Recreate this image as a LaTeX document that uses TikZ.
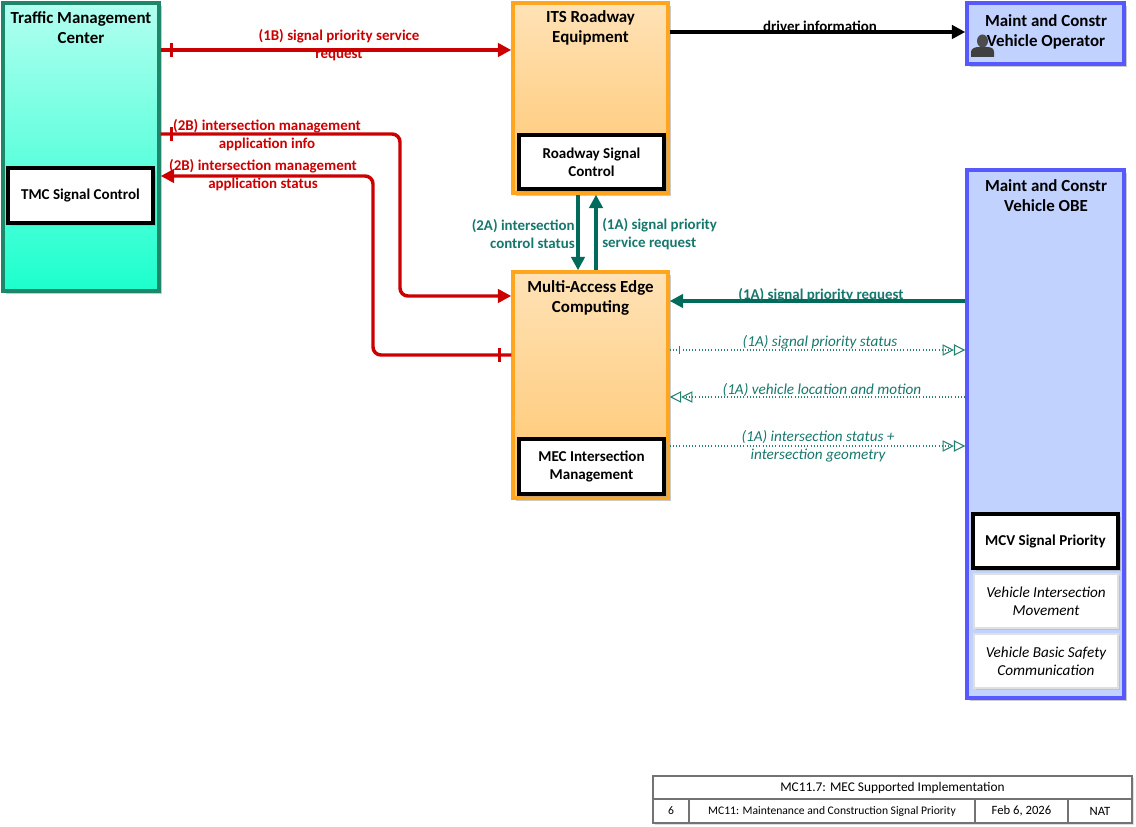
\documentclass[tikz,border=0pt]{standalone}
\usepackage{fontspec}
\setmainfont{Carlito}
\usetikzlibrary{arrows.meta,shadows,fit,decorations.markings}
\definecolor{redc}{RGB}{204,0,0}
\definecolor{tealc}{RGB}{0,107,90}
\definecolor{teallab}{RGB}{22,120,108}
\definecolor{tealdot}{RGB}{40,130,115}
\definecolor{tmcborder}{RGB}{30,135,105}
\definecolor{tmctop}{RGB}{178,255,240}
\definecolor{tmcbot}{RGB}{28,255,205}
\definecolor{orgborder}{RGB}{255,165,30}
\definecolor{orgtop}{RGB}{255,226,182}
\definecolor{orgbot}{RGB}{255,198,110}
\definecolor{blueborder}{RGB}{88,88,255}
\definecolor{bluefill}{RGB}{194,210,255}
\tikzset{
  x=0.75pt, y=-0.75pt,
  shad/.style={drop shadow={shadow xshift=2.2pt, shadow yshift=-2.2pt, fill=black!35, opacity=0.6}},
  tmcbox/.style={inner sep=0pt, draw=tmcborder, line width=2.6pt, top color=tmctop, bottom color=tmcbot, shad},
  orgbox/.style={inner sep=0pt, draw=orgborder, line width=2.6pt, top color=orgtop, bottom color=orgbot, shad},
  bluebox/.style={inner sep=0pt, draw=blueborder, line width=2.6pt, fill=bluefill, shad},
  inbox/.style={inner sep=0pt, draw=black, line width=2.6pt, fill=white, shad},
  subbox/.style={inner sep=0pt, draw=black!12, line width=0.8pt, fill=white, drop shadow={shadow xshift=1.8pt, shadow yshift=-1.8pt, fill=black!30, opacity=0.5}},
  titletxt/.style={align=center, inner sep=0pt, font=\fontsize{12.7}{15}\selectfont\bfseries},
  intxt/.style={align=center, inner sep=0pt, font=\fontsize{11.3}{13.5}\selectfont\bfseries},
  subtxt/.style={align=center, inner sep=0pt, font=\fontsize{11.4}{13.5}\selectfont\itshape},
  redlab/.style={align=center, inner sep=0pt, text=redc, font=\fontsize{11.2}{13}\selectfont\bfseries},
  teallabel/.style={inner sep=0pt, text=teallab, font=\fontsize{11.2}{13.5}\selectfont\bfseries},
  itlab/.style={align=center, inner sep=0pt, text=teallab, font=\fontsize{11.4}{13.5}\selectfont\itshape},
  redflow/.style={draw=redc, line width=2.6pt, -{Triangle[length=10pt,width=10pt]}},
  tealflow/.style={draw=tealc, line width=2.6pt, -{Triangle[length=10pt,width=10pt]}},
  blackflow/.style={draw=black, line width=2.6pt, -{Triangle[length=10pt,width=10pt]}},
  dotflow/.style={draw=tealdot, line width=0.8pt, dash pattern=on 0.8pt off 1.6pt,
     -{Triangle[open,length=8.5pt,width=8.5pt,line width=0.8pt]Triangle[open,length=8.5pt,width=8.5pt,line width=0.8pt]}},
  redtick/.style={postaction={decorate,decoration={markings,mark=at position #1 with {\draw[solid,-,draw=redc,line width=2.2pt] (0,-5pt)--(0,5pt);}}}},
  dottick/.style={postaction={decorate,decoration={markings,mark=at position #1 with {\draw[solid,-,draw=tealdot,line width=0.8pt] (0,-3pt)--(0,3pt);}}}},
  tabtxt/.style={inner sep=0pt, font=\fontsize{8.7}{11}\selectfont}
}
\begin{document}
\begin{tikzpicture}
\useasboundingbox (0,0) rectangle (1136,827);
% ---------- boxes ----------
\node[tmcbox, fit={(3,3) (159,291)}] (tmc) {};
\node[titletxt] (tmct) at (81,28) {Traffic Management\\Center};
\node[inbox, fit={(8,168) (153,223)}] (tmcsc) {};
\node[intxt] (tmcsct) at (tmcsc.center) {TMC Signal Control};

\node[orgbox, fit={(513,3) (668,193)}] (its) {};
\node[titletxt] (itst) at (590.5,28) {ITS Roadway\\Equipment};
\node[inbox, fit={(519,135) (664,189)}] (rsc) {};
\node[intxt] (rsct) at (rsc.center) {Roadway Signal\\Control};

\node[bluebox, fit={(967,3) (1124,64)}] (op) {};
\node[titletxt] (opt) at (1046,32) {Maint and Constr\\Vehicle Operator};
% operator icon
\fill[black!75] (971,57) -- (971,52) .. controls (971,48.5) and (975,47) .. (979,47) -- (987,47) .. controls (991,47) and (994,48.5) .. (994,52) -- (994,57) -- cycle;
\fill[black!70] (982.5,41) ellipse [x radius=5.5, y radius=6.5];

\node[orgbox, fit={(513,272) (668,498)}] (mec) {};
\node[titletxt] (mect) at (590.5,298) {Multi-Access Edge\\Computing};
\node[inbox, fit={(519,439) (664,494)}] (mecim) {};
\node[intxt] (mecimt) at (mecim.center) {MEC Intersection\\Management};

\node[bluebox, fit={(967,170) (1124,698)}] (obe) {};
\node[titletxt] (obet) at (1046,196) {Maint and Constr\\Vehicle OBE};
\node[inbox, fit={(973,514) (1118,568)}] (mcv) {};
\node[intxt] (mcvt) at (mcv.center) {MCV Signal Priority};
\node[subbox, fit={(974,574) (1118,628)}] (vim) {};
\node[subtxt] (vimt) at (vim.center) {Vehicle Intersection\\Movement};
\node[subbox, fit={(974,634) (1118,688)}] (vbsc) {};
\node[subtxt] (vbsct) at (vbsc.center) {Vehicle Basic Safety\\Communication};

% ---------- flows ----------
\draw[redflow, redtick=8pt] (tmc.east |- 0,50) -- (its.west |- 0,50);
\node[redlab] (l1b) at (339,45) {(1B) signal priority service\\request};

\draw[redflow, redtick=8pt, rounded corners=6pt] (tmc.east |- 0,134) -- (400,134) -- (400,296) -- (mec.west |- 0,296);
\node[redlab] (l2bi) at (267,135) {(2B) intersection management\\application info};

\draw[redflow, redtick=9pt, rounded corners=6pt] (mec.west |- 0,355) -- (373,355) -- (373,176) -- (tmc.east |- 0,176);
\node[redlab] (l2bs) at (263,175) {(2B) intersection management\\application status};

\draw[blackflow] (its.east |- 0,32) -- (op.west |- 0,32);
\node[inner sep=0pt, font=\fontsize{11.2}{13}\selectfont\bfseries] (ldi) at (820,26) {driver information};

\draw[tealflow] (its.south -| 578,0) -- (mec.north -| 578,0);
\node[teallabel, align=right, anchor=east] (l2a) at (575,234) {(2A) intersection\\control status};
\draw[tealflow] (mec.north -| 596,0) -- (its.south -| 596,0);
\node[teallabel, align=left, anchor=west] (l1as) at (602,234) {(1A) signal priority\\service request};

\draw[tealflow] (obe.west |- 0,301) -- (mec.east |- 0,301);
\node[teallabel] (l1ar) at (821,295) {(1A) signal priority request};

\draw[dotflow, dottick=7pt] (mec.east |- 0,350) -- (obe.west |- 0,350);
\node[itlab] (l1ast) at (820,342) {(1A) signal priority status};

\draw[dotflow] (obe.west |- 0,397) -- (mec.east |- 0,397);
\node[itlab] (l1av) at (822,390) {(1A) vehicle location and motion};

\draw[dotflow] (mec.east |- 0,446) -- (obe.west |- 0,446);
\node[itlab] (l1ai) at (818,446) {(1A) intersection status +\\intersection geometry};

% ---------- table ----------
\node[inner sep=0pt, fit={(653,776) (1132,823)}, draw=black!55, line width=0.8pt, drop shadow={shadow xshift=1.5pt, shadow yshift=-1.5pt, fill=black!25, opacity=0.5}, fill=white] (tab) {};
\draw[black!55, line width=0.8pt] (tab.west |- 0,799) -- (tab.east |- 0,799);
\draw[black!55, line width=0.8pt] (689,799) -- (tab.south -| 689,0);
\draw[black!55, line width=0.8pt] (975,799) -- (tab.south -| 975,0);
\draw[black!55, line width=0.8pt] (1068,799) -- (tab.south -| 1068,0);
\node[tabtxt, font=\fontsize{10}{11}\selectfont] (tab1) at (892.5,787.5) {MC11.7: MEC Supported Implementation};
\node[tabtxt] (tab2) at (671,811) {6};
\node[tabtxt] (tab3) at (832,811) {MC11: Maintenance and Construction Signal Priority};
\node[tabtxt, font=\fontsize{9.5}{11}\selectfont] (tab4) at (1021.5,811) {Feb 6, 2026};
\node[tabtxt, font=\fontsize{9.5}{11}\selectfont] (tab5) at (1100,811) {NAT};
\end{tikzpicture}
\end{document}
